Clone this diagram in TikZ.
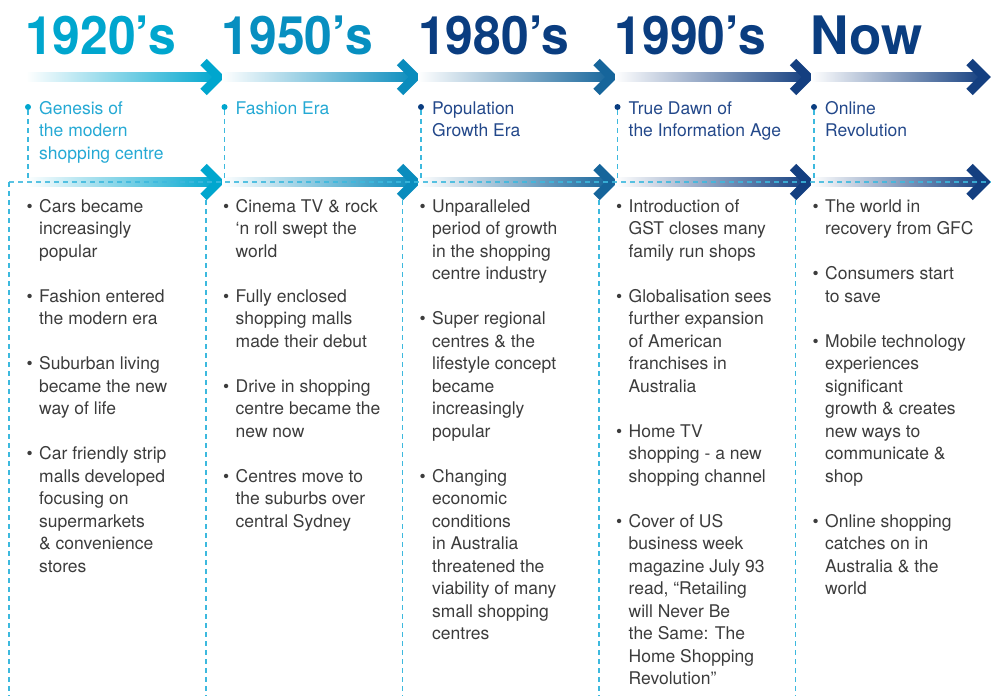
\documentclass[tikz,border=0pt]{standalone}
\usepackage{fontspec}
\usepackage{graphicx}
\setmainfont{TeX Gyre Heros}

% era colours
\definecolor{eraA}{HTML}{00A6CE}
\definecolor{eraB}{HTML}{078FC0}
\definecolor{eraC}{HTML}{0A3D80}
\definecolor{arrA}{HTML}{00A6CE}
\definecolor{arrB}{HTML}{0A8CBD}
\definecolor{arrC}{HTML}{16659B}
\definecolor{arrD}{HTML}{143F80}
\definecolor{subA}{HTML}{25A9D4}
\definecolor{subC}{HTML}{23488A}
\definecolor{bodygray}{HTML}{3C3C3C}
\definecolor{guidecyan}{HTML}{3DB9DE}

% bullet item start: strut fixes the first-line height, bullet hangs left
\newcommand{\itm}{\leavevmode\rule{0pt}{14pt}\llap{\textbullet\hspace{6.5pt}}}
\newcommand{\sst}{\leavevmode\rule{0pt}{14pt}}

% gradient arrow: start x, tip x, y, colour
\newcommand{\timearrow}[4]{%
  \shade[left color=white, right color=#4] (#1,#3-4.5) rectangle (#2-6,#3+4.5);
  \draw[#4, line width=9pt, line join=miter, line cap=butt]
    (#2-21,#3-15) -- (#2-6,#3) -- (#2-21,#3+15);}

\begin{document}
\begin{tikzpicture}[x=1pt, y=-1pt,
  yearlabel/.style={anchor=base west, inner sep=0pt,
    font=\fontsize{53}{60}\selectfont\bfseries},
  subtitle/.style={anchor=north west, inner sep=0pt, align=left,
    font=\fontsize{17.5}{22.5}\selectfont},
  bodytext/.style={anchor=north west, inner sep=0pt, align=left,
    text=bodygray, font=\fontsize{17.5}{22.5}\selectfont},
  milestone/.style={circle, inner sep=0pt, minimum size=6pt},
  guide/.style={draw=guidecyan, dash pattern=on 5pt off 4pt, line width=1.3pt}]

\useasboundingbox (0,0) rectangle (991,696);

% ---- column guides below the lower arrows ----
\coordinate (g0) at (9,182);
\coordinate (gend) at (991,182);
\coordinate (c2) at (206,182);
\coordinate (c3) at (402.5,182);
\coordinate (c4) at (599,182);
\coordinate (c5) at (795.5,182);
\coordinate (bot) at (0,696);
\draw[guide] (g0) -- (g0 |- bot);
\foreach \c in {c2,c3,c4,c5} \draw[guide] (\c) -- (\c |- bot);

% ---- year headings ----
\node[yearlabel, text=eraA] (y1) at (25,54) {\scalebox{0.94}[1]{1920’s}};
\node[yearlabel, text=eraB] (y2) at (221.5,54) {\scalebox{0.94}[1]{1950’s}};
\node[yearlabel, text=eraC] (y3) at (418,54) {\scalebox{0.94}[1]{1980’s}};
\node[yearlabel, text=eraC] (y4) at (614.5,54) {\scalebox{0.94}[1]{1990’s}};
\node[yearlabel, text=eraC] (y5) at (810.5,54) {Now};

% ---- arrows (upper and lower rows) ----
\foreach \y in {77,182} {
  \timearrow{26}{224.5}{\y}{arrA}
  \timearrow{222}{421}{\y}{arrB}
  \timearrow{418}{617.5}{\y}{arrC}
  \timearrow{615}{814}{\y}{arrD}
  \timearrow{811}{990.5}{\y}{arrD}
}

% ---- milestone dots ----
\node[milestone, fill=eraA] (d1) at (28,107) {};
\node[milestone, fill=eraA] (d2) at (224.5,107) {};
\node[milestone, fill=eraC] (d3) at (421,107) {};
\node[milestone, fill=eraC] (d4) at (617.5,107) {};
\node[milestone, fill=eraC] (d5) at (814,107) {};

% ---- guides from the dots to the lower row ----
\foreach \d in {d1,d2,d3,d4,d5} \draw[guide] (\d) -- (\d |- g0);
\draw[guide, draw opacity=0.85] (g0) -- (gend);

% ---- era titles ----
\node[subtitle, text=subA] (s1) at (39,100) {\sst Genesis of\\the modern\\shopping centre};
\node[subtitle, text=subA] (s2) at (235.5,100) {\sst Fashion Era};
\node[subtitle, text=subC] (s3) at (432,100) {\sst Population\\Growth Era};
\node[subtitle, text=subC] (s4) at (628.5,100) {\sst True Dawn of\\the Information Age};
\node[subtitle, text=subC] (s5) at (825,100) {\sst Online\\Revolution};

% ---- events ----
\node[bodytext] (b1) at (39,198) {%
\itm Cars became\\increasingly\\popular\\[22.5pt]
\itm Fashion entered\\the modern era\\[22.5pt]
\itm Suburban living\\became the new\\way of life\\[22.5pt]
\itm Car friendly strip\\malls developed\\focusing on\\supermarkets\\\& convenience\\stores};

\node[bodytext] (b2) at (235.5,198) {%
\itm Cinema TV \& rock\\‘n roll swept the\\world\\[22.5pt]
\itm Fully enclosed\\shopping malls\\made their debut\\[22.5pt]
\itm Drive in shopping\\centre became the\\new now\\[22.5pt]
\itm Centres move to\\the suburbs over\\central Sydney};

\node[bodytext] (b3) at (432,198) {%
\itm Unparalleled\\period of growth\\in the shopping\\centre industry\\[22.5pt]
\itm Super regional\\centres \& the\\lifestyle concept\\became\\increasingly\\popular\\[22.5pt]
\itm Changing\\economic\\conditions\\in Australia\\threatened the\\viability of many\\small shopping\\centres};

\node[bodytext] (b4) at (628.5,198) {%
\itm Introduction of\\GST closes many\\family run shops\\[22.5pt]
\itm Globalisation sees\\further expansion\\of American\\franchises in\\Australia\\[22.5pt]
\itm Home TV\\shopping - a new\\shopping channel\\[22.5pt]
\itm Cover of US\\business week\\magazine July 93\\read, “Retailing\\will Never Be\\the Same: The\\Home Shopping\\Revolution”};

\node[bodytext] (b5) at (825,198) {%
\itm The world in\\recovery from GFC\\[22.5pt]
\itm Consumers start\\to save\\[22.5pt]
\itm Mobile technology\\experiences\\significant\\growth \& creates\\new ways to\\communicate \&\\shop\\[22.5pt]
\itm Online shopping\\catches on in\\Australia \& the\\world};

\end{tikzpicture}
\end{document}
